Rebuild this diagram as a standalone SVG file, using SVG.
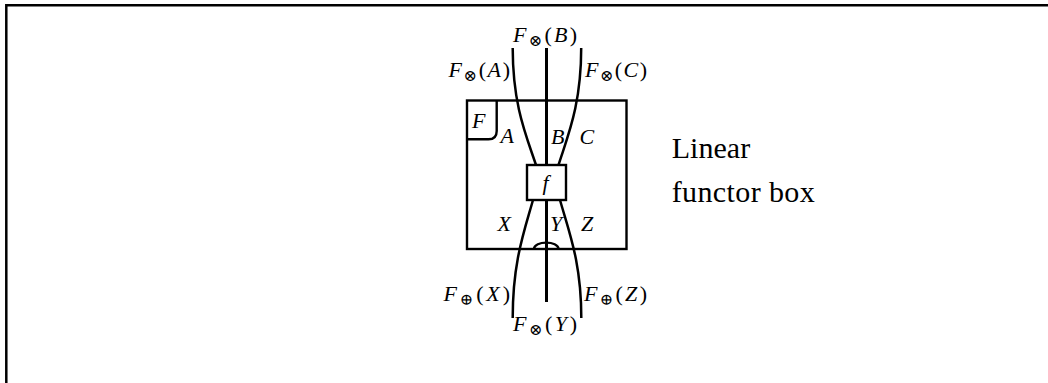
<svg xmlns="http://www.w3.org/2000/svg" width="1048" height="383" viewBox="0 0 1048 383">
<style>
.frame{fill:none;stroke:#000;stroke-width:2.5}
.box{fill:none;stroke:#000;stroke-width:2.4}
.wire{fill:none;stroke:#000;stroke-width:2.5}
.mid{fill:none;stroke:#000;stroke-width:3}
text{font-family:"Liberation Serif","DejaVu Serif",serif;fill:#000}
.m{font-size:22px}
.i{font-style:italic}
.sub{font-size:16px}
.big{font-size:30px}
</style>
<rect width="1048" height="383" fill="#fff"/>
<path class="frame" d="M6.3,383 L6.3,5.3 L1048,5.3"/>
<g id="functor-box">
<rect class="box" x="467" y="100.5" width="159.5" height="148.5"/>
<path class="box" d="M496.7,100.5 L496.7,131 Q496.7,139.3 488.5,139.3 L467,139.3"/>
<text class="m i" x="472" y="127.5">F</text>
</g>
<g id="f-box">
<rect class="box" x="527" y="165" width="39" height="35" fill="#fff"/>
<text class="m i" x="545.5" y="190" text-anchor="middle">f</text>
</g>
<g id="connectors">
<path class="mid" d="M546.5,48 L546.5,165"/>
<path class="mid" d="M546.5,200 L546.5,302"/>
<path class="wire" d="M512.7,48 C512.7,105 526,135 536,165"/>
<path class="wire" d="M581.2,48 C581.2,105 568,135 558.5,165"/>
<path class="wire" d="M533,200 C524,232 512.7,262 512.7,318"/>
<path class="wire" d="M560,200 C569,232 581.3,262 581.3,318"/>
<path class="box" d="M534,249 C534,240.5 558.5,240.5 558.5,249"/>
</g>
<g id="labels">
<text class="m" x="513" y="42" textLength="64"><tspan class="i">F</tspan><tspan class="sub" dy="4">⊗</tspan><tspan dy="-4">(</tspan><tspan class="i">B</tspan>)</text>
<text class="m" x="448.5" y="77" textLength="61.5"><tspan class="i">F</tspan><tspan class="sub" dy="4">⊗</tspan><tspan dy="-4">(</tspan><tspan class="i">A</tspan>)</text>
<text class="m" x="585" y="77" textLength="62"><tspan class="i">F</tspan><tspan class="sub" dy="4">⊗</tspan><tspan dy="-4">(</tspan><tspan class="i">C</tspan>)</text>
<text class="m i" x="500.5" y="143">A</text>
<text class="m i" x="551" y="144">B</text>
<text class="m i" x="579.5" y="144">C</text>
<text class="m i" x="497.5" y="231">X</text>
<text class="m i" x="550" y="231">Y</text>
<text class="m i" x="581" y="231">Z</text>
<text class="m" x="443.5" y="301" textLength="66.5"><tspan class="i">F</tspan><tspan class="sub" dy="4">⊕</tspan><tspan dy="-4">(</tspan><tspan class="i">X</tspan>)</text>
<text class="m" x="584" y="301" textLength="63"><tspan class="i">F</tspan><tspan class="sub" dy="4">⊕</tspan><tspan dy="-4">(</tspan><tspan class="i">Z</tspan>)</text>
<text class="m" x="513" y="331" textLength="64"><tspan class="i">F</tspan><tspan class="sub" dy="4">⊗</tspan><tspan dy="-4">(</tspan><tspan class="i">Y</tspan>)</text>
<text class="big" x="671.7" y="158.3" textLength="78.5">Linear</text>
<text class="big" x="671.7" y="201.7" textLength="143">functor box</text>
</g>
</svg>
